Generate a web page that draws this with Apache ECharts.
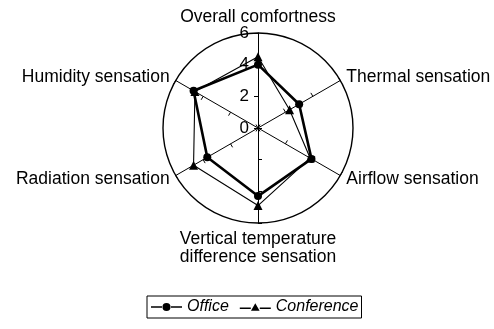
<!DOCTYPE html>
<html><head><meta charset="utf-8">
<script src="https://cdn.jsdelivr.net/npm/echarts@6/dist/echarts.min.js"></script>
<style>html,body{margin:0;padding:0;background:#fff}#c{width:494px;height:329px}</style>
</head><body><div id="c"></div>
<script>
// Axes listed clockwise from the top, as in the figure
var indicators = ['Overall comfortness', 'Thermal sensation', 'Airflow sensation', 'Vertical temperature\ndifference sensation', 'Radiation sensation', 'Humidity sensation'];
var office = [4.0, 3.0, 3.9, 4.3, 3.7, 4.7];
var conference = [4.5, 2.3, 3.8, 4.9, 4.7, 4.6];
var tickLabels = ['0', '2', '4', '6'];
var FONT = 'Liberation Sans, Arial, sans-serif';

// ECharts radar runs counter-clockwise: keep first axis, reverse the rest
function cw(arr) { return [arr[0]].concat(arr.slice(1).reverse()); }

var ICON_CIRCLE = 'path://M0,4.2H11V5.8H0Z M20,4.2H31V5.8H20Z M11.5,5A4,4 0 1,1 19.5,5A4,4 0 1,1 11.5,5Z';
var ICON_TRI = 'path://M0,5.3H11V6.7H0Z M20,5.3H31V6.7H20Z M15.5,1L19.8,8.5H11.2Z';

var chart = echarts.init(document.getElementById('c'));
chart.setOption({
  animation: false,
  legend: {
    left: 147, top: 296, itemGap: 11, itemWidth: 31, itemHeight: 10,
    borderColor: '#000', borderWidth: 1, padding: [3, 3, 3, 4],
    textStyle: { fontFamily: FONT, fontStyle: 'italic', fontSize: 16, color: '#000' },
    data: [{ name: 'Office', icon: ICON_CIRCLE }, { name: 'Conference', icon: ICON_TRI }]
  },
  polar: { center: [258, 128], radius: 95 },
  angleAxis: { show: false, startAngle: 90, min: 0, max: 360 },
  radiusAxis: {
    min: 0, max: 6, interval: 2,
    axisLine: { show: false }, axisTick: { show: false }, splitLine: { show: false },
    axisLabel: { show: true, fontFamily: FONT, fontSize: 17, color: '#000', margin: 9,
      formatter: function (v) { return tickLabels[v / 2]; } }
  },
  radar: {
    center: [258, 128], radius: 95, shape: 'circle', startAngle: 90,
    splitNumber: 3,
    indicator: cw(indicators).map(function (n) { return { name: n, min: 0, max: 6 }; }),
    axisName: { color: '#000', fontFamily: FONT, fontSize: 17.5, lineHeight: 18 },
    nameGap: 7,
    axisLine: { lineStyle: { color: '#000', width: 1 } },
    axisTick: { show: true, length: 4, lineStyle: { color: '#000' } },
    splitLine: { lineStyle: { color: ['rgba(0,0,0,0)', 'rgba(0,0,0,0)', 'rgba(0,0,0,0)', '#000'], width: 1.4 } },
    splitArea: { show: false }
  },
  series: [{
    type: 'radar',
    data: [
      { name: 'Office', value: cw(office), symbol: 'circle', symbolSize: 8,
        lineStyle: { color: '#000', width: 2.6 }, itemStyle: { color: '#000' } },
      { name: 'Conference', value: cw(conference), symbol: 'triangle', symbolSize: 9,
        lineStyle: { color: '#000', width: 1.1 }, itemStyle: { color: '#000' } }
    ]
  }]
});
</script></body></html>
